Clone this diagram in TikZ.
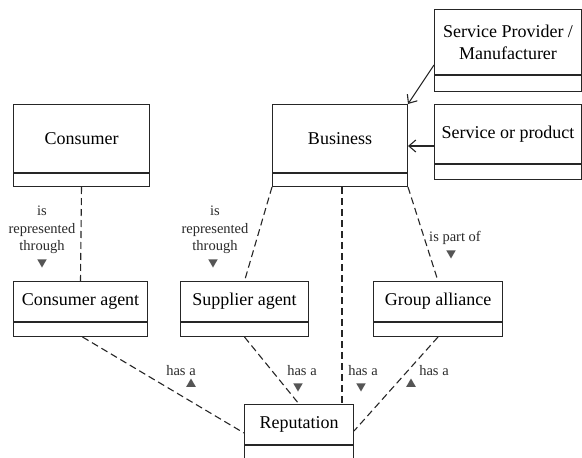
\documentclass[tikz,border=0pt]{standalone}
\usepackage{fontspec}
\setmainfont{Liberation Serif}
\usetikzlibrary{arrows.meta,shapes.geometric}
\definecolor{lblgray}{HTML}{2A2A2A}
\definecolor{trigray}{HTML}{555555}
\tikzset{
  classtop/.style={draw=black!85, line width=1pt, anchor=north west, inner sep=2pt,
    align=center, font=\fontsize{18}{22}\selectfont},
  classbot/.style={draw=black!85, line width=1pt, anchor=north, inner sep=0pt},
  assoc/.style={draw=black!85, line width=1.1pt, dash pattern=on 7pt off 4pt},
  arrowline/.style={draw=black!85, line width=1.1pt, -{Straight Barb[length=7pt,width=12pt]}},
  lbl/.style={text=lblgray, align=center, inner sep=0pt, font=\fontsize{14.5}{17.5}\selectfont},
  tridown/.style={regular polygon, regular polygon sides=3, shape border rotate=180,
    fill=trigray, minimum size=11pt, inner sep=0pt},
  triup/.style={regular polygon, regular polygon sides=3,
    fill=trigray, minimum size=11pt, inner sep=0pt},
}
\newcommand{\umlbox}[7]{%
  \node[classtop, minimum width=#4pt, minimum height=#5pt] (#1) at (#2,#3) {#7};
  \node[classbot, minimum width=#4pt, minimum height=#6pt] (#1-b) at (#1.south) {};
}
\begin{document}
\begin{tikzpicture}[x=1pt,y=-1pt]
\useasboundingbox[fill=white] (0,0) rectangle (582,458);
% classes
\umlbox{consumer}{13}{104}{136}{68}{13}{Consumer}
\umlbox{business}{272}{104}{135}{68}{13}{Business}
\umlbox{sp}{434}{9}{147}{65}{16}{Service Provider /\\Manufacturer}
\umlbox{sop}{434}{104}{147}{59}{15}{Service or product}
\umlbox{cagent}{13}{281}{134}{40}{14}{Consumer agent}
\umlbox{sagent}{180}{281}{128}{40}{14}{Supplier agent}
\umlbox{gall}{373}{281}{129}{40}{14}{Group alliance}
\umlbox{rep}{244}{404}{109}{40}{14}{Reputation}
% arrows into Business
\coordinate (spout) at ([yshift=10pt]sp.south west);
\draw[arrowline] (spout) -- (business.north east);
\coordinate (sopout) at ([yshift=18pt]sop-b.north west);
\draw[arrowline] (sopout) -- (sopout -| business.east);
% dashed associations
\draw[assoc] (consumer-b.south) -- (cagent.north);
\draw[assoc] (business-b.south west) -- (sagent.north);
\draw[assoc] ([xshift=2pt]business-b.south) -- ([xshift=2pt]business-b.south |- rep.north);
\draw[assoc] (business-b.south east) -- (gall.north);
\draw[assoc] ([xshift=2pt]cagent-b.south) -- ([yshift=12pt]rep-b.north west);
\draw[assoc] (sagent-b.south) -- (rep.north);
\draw[assoc] (gall-b.south) -- ([yshift=14pt]rep-b.north east);
% labels
\node[lbl] (l1) at (42,230) {is\\represented\\through};
\node[tridown] (t1) at (42,262) {};
\node[lbl] (l2) at (215,230) {is\\represented\\through};
\node[tridown] (t2) at (213,262) {};
\node[lbl] (l3) at (455,238) {is part of};
\node[tridown] (t3) at (451,253) {};
\node[lbl] (h1) at (181,371) {has a};
\node[triup] (u1) at (191,384) {};
\node[lbl] (h2) at (302,371) {has a};
\node[tridown] (d2) at (298,386) {};
\node[lbl] (h3) at (363,371) {has a};
\node[tridown] (d3) at (361,386) {};
\node[lbl] (h4) at (434,371) {has a};
\node[triup] (u4) at (411,384) {};
\end{tikzpicture}
\end{document}
